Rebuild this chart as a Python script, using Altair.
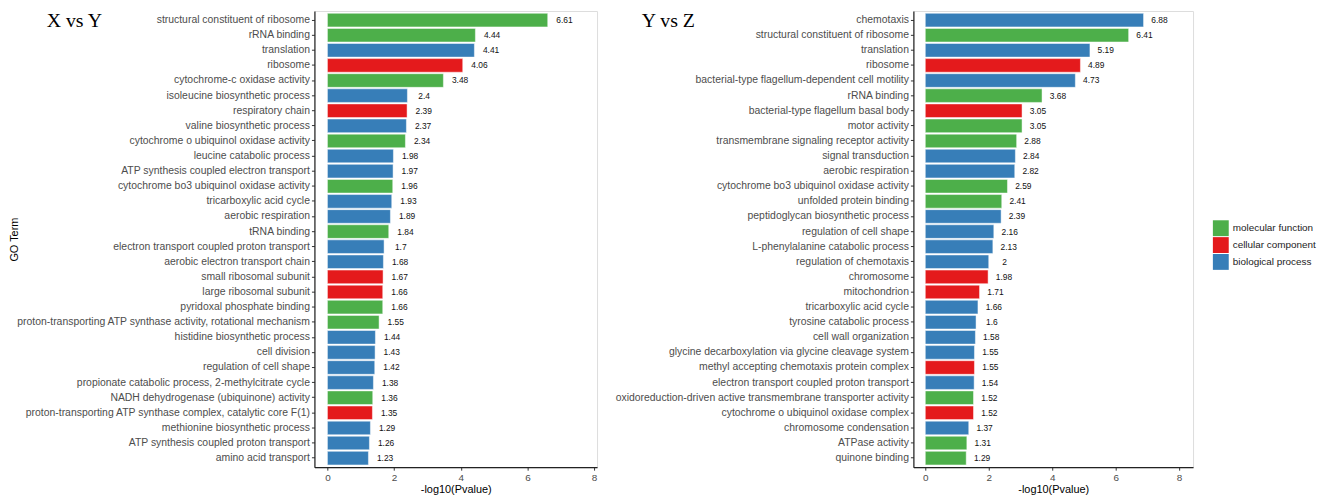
import altair as alt
import pandas as pd

cat_domain = ["molecular function", "cellular component", "biological process"]
cat_colors = ["#4DAF4A", "#E41A1C", "#377EB8"]
MF, CC, BP = cat_domain

left_terms = [
    "structural constituent of ribosome", "rRNA binding", "translation", "ribosome",
    "cytochrome-c oxidase activity", "isoleucine biosynthetic process", "respiratory chain",
    "valine biosynthetic process", "cytochrome o ubiquinol oxidase activity",
    "leucine catabolic process", "ATP synthesis coupled electron transport",
    "cytochrome bo3 ubiquinol oxidase activity", "tricarboxylic acid cycle",
    "aerobic respiration", "tRNA binding", "electron transport coupled proton transport",
    "aerobic electron transport chain", "small ribosomal subunit", "large ribosomal subunit",
    "pyridoxal phosphate binding",
    "proton-transporting ATP synthase activity, rotational mechanism",
    "histidine biosynthetic process", "cell division", "regulation of cell shape",
    "propionate catabolic process, 2-methylcitrate cycle",
    "NADH dehydrogenase (ubiquinone) activity",
    "proton-transporting ATP synthase complex, catalytic core F(1)",
    "methionine biosynthetic process", "ATP synthesis coupled proton transport",
    "amino acid transport",
]
left_values = [6.61, 4.44, 4.41, 4.06, 3.48, 2.4, 2.39, 2.37, 2.34, 1.98, 1.97, 1.96, 1.93,
               1.89, 1.84, 1.7, 1.68, 1.67, 1.66, 1.66, 1.55, 1.44, 1.43, 1.42, 1.38, 1.36,
               1.35, 1.29, 1.26, 1.23]
left_cats = [MF, MF, BP, CC, MF, BP, CC, BP, MF, BP, BP, MF, BP, BP, MF, BP, BP, CC, CC, MF,
             MF, BP, BP, BP, BP, MF, CC, BP, BP, BP]

right_terms = [
    "chemotaxis", "structural constituent of ribosome", "translation", "ribosome",
    "bacterial-type flagellum-dependent cell motility", "rRNA binding",
    "bacterial-type flagellum basal body", "motor activity",
    "transmembrane signaling receptor activity", "signal transduction", "aerobic respiration",
    "cytochrome bo3 ubiquinol oxidase activity", "unfolded protein binding",
    "peptidoglycan biosynthetic process", "regulation of cell shape",
    "L-phenylalanine catabolic process", "regulation of chemotaxis", "chromosome",
    "mitochondrion", "tricarboxylic acid cycle", "tyrosine catabolic process",
    "cell wall organization", "glycine decarboxylation via glycine cleavage system",
    "methyl accepting chemotaxis protein complex", "electron transport coupled proton transport",
    "oxidoreduction-driven active transmembrane transporter activity",
    "cytochrome o ubiquinol oxidase complex", "chromosome condensation", "ATPase activity",
    "quinone binding",
]
right_values = [6.88, 6.41, 5.19, 4.89, 4.73, 3.68, 3.05, 3.05, 2.88, 2.84, 2.82, 2.59, 2.41,
                2.39, 2.16, 2.13, 2.0, 1.98, 1.71, 1.66, 1.6, 1.58, 1.55, 1.55, 1.54, 1.52,
                1.52, 1.37, 1.31, 1.29]
right_cats = [BP, MF, BP, CC, BP, MF, CC, MF, MF, BP, BP, MF, MF, BP, BP, BP, BP, CC, CC, BP,
              BP, BP, BP, CC, BP, MF, CC, BP, MF, MF]

x_ticks = [0, 2, 4, 6, 8]

LABEL_FONT = "Liberation Sans"


def panel(terms, values, cats, title, domain, width, ytitle, legend, title_dx):
    df = pd.DataFrame({
        "term": terms,
        "value": values,
        "category": cats,
        "label": [f"{v:g}" for v in values],
    })
    base = alt.Chart(df)
    axis_kw = dict(labelFont=LABEL_FONT, labelFontSize=10.5, labelColor="#4D4D4D",
                   labelLimit=500, labelPadding=2, tickSize=3, tickColor="#333333",
                   domainColor="#222222", domainWidth=1.2)
    if ytitle:
        axis_kw.update(titleFont=LABEL_FONT, titleFontSize=11, titleFontWeight="normal",
                       titleColor="#000000", titleX=-297)
    y = alt.Y(
        "term:N", sort=terms, title=ytitle,
        scale=alt.Scale(paddingInner=0.1, paddingOuter=0.15),
        axis=alt.Axis(**axis_kw),
    )
    x = alt.X(
        "value:Q",
        scale=alt.Scale(domain=domain, nice=False),
        axis=alt.Axis(values=x_ticks, grid=False, title="-log10(Pvalue)", format="d",
                      labelFont=LABEL_FONT, labelFontSize=10, labelColor="#4D4D4D",
                      tickSize=3, tickColor="#333333", domainColor="#222222",
                      domainWidth=1.2, labelPadding=2,
                      titleFont=LABEL_FONT, titleFontSize=11, titleFontWeight="normal",
                      titleColor="#000000", titlePadding=2),
    )
    color = alt.Color("category:N", scale=alt.Scale(domain=cat_domain, range=cat_colors),
                      legend=legend)
    bars = base.mark_bar(stroke="white", strokeWidth=0.8, strokeOpacity=0.6).encode(
        x=x, x2=alt.datum(0), y=y, color=color
    )
    text = base.transform_calculate(pos="datum.value + 0.5").mark_text(
        align="center", baseline="middle", font=LABEL_FONT, fontSize=8.5, color="#111111"
    ).encode(x=alt.X("pos:Q"), y=alt.Y("term:N", sort=terms), text="label:N")
    ttl = alt.Chart(pd.DataFrame({"t": [title]})).mark_text(
        align="left", baseline="alphabetic", font="Liberation Serif", fontSize=20,
        color="#000000"
    ).encode(text="t:N", x=alt.value(title_dx), y=alt.value(16))
    return alt.layer(bars, text, ttl).properties(width=width, height=460)


left = panel(left_terms, left_values, left_cats, "X vs Y", [-0.39, 8.09], 285, "GO Term",
             None, -270)
right = panel(right_terms, right_values, right_cats, "Y vs Z", [-0.375, 8.44], 282, None,
              alt.Legend(orient="none", legendX=302, legendY=211, title=None,
                         symbolType="square", symbolSize=256, symbolStrokeWidth=0,
                         symbolOpacity=1, labelFont=LABEL_FONT, labelFontSize=10,
                         labelColor="#222222", rowPadding=1, labelOffset=4),
              -274)

chart = alt.hconcat(left, right, spacing=16).resolve_scale(
    color="independent"
).resolve_legend(color="independent").properties(padding=0).configure_view(
    stroke="#555555", strokeWidth=1
).configure(background="white")

chart.save("out.html", embed_options={"renderer": "svg", "actions": False})
